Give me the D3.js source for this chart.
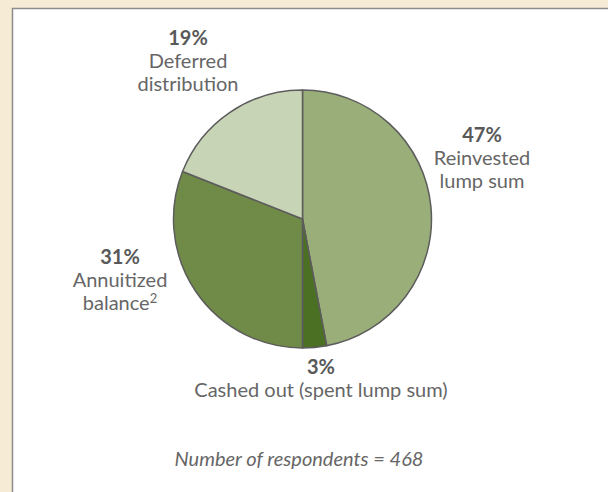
<!DOCTYPE html>
<html>
<head>
<meta charset="utf-8">
<script src="https://cdn.jsdelivr.net/npm/d3@7"></script>
<style>
  html, body { margin: 0; padding: 0; background: #f6ebd5; }
  svg { display: block; }
</style>
</head>
<body>
<svg id="chart" width="608" height="492"></svg>
<script>
// Distribution outcomes (percent of respondents)
const categories = ["Reinvested lump sum", "Cashed out (spent lump sum)", "Annuitized balance²", "Deferred distribution"];
const values = [47, 3, 31, 19];
const colors = ["#9aae79", "#4b7023", "#6f8b47", "#c8d4b6"];
const labelLines = [
  ["Reinvested", "lump sum"],
  ["Cashed out (spent lump sum)"],
  ["Annuitized", "balance²"],
  ["Deferred", "distribution"]
];
const respondents = 468;

const svg = d3.select("#chart");
const W = 608, H = 492;

// Background and white panel
svg.append("rect").attr("width", W).attr("height", H).attr("fill", "#f6ebd5");
svg.append("rect")
  .attr("x", 12.5).attr("y", 8.5)
  .attr("width", W).attr("height", H)
  .attr("fill", "#fff")
  .attr("stroke", "#8c8c8c").attr("stroke-width", 1.5);

const cx = 302.5, cy = 219, r = 129;

const pie = d3.pie().sort(null).value(d => d);
const arc = d3.arc().innerRadius(0).outerRadius(r);
const arcs = pie(values);

const g = svg.append("g").attr("transform", `translate(${cx},${cy})`);
g.selectAll("path")
  .data(arcs)
  .join("path")
  .attr("d", arc)
  .attr("fill", (d, i) => colors[i])
  .attr("stroke", "#5c5c5c")
  .attr("stroke-width", 1.5)
  .attr("stroke-linejoin", "round");

// Label anchors for each slice (percent line baseline)
const labelPos = [
  { x: 482, y: 142 },
  { x: 321, y: 374 },
  { x: 120, y: 264 },
  { x: 188, y: 45 }
];
const lineH = 23;
const font = "Lato, 'Open Sans', sans-serif";

arcs.forEach((d, i) => {
  const p = labelPos[i];
  const t = svg.append("text")
    .attr("text-anchor", "middle")
    .attr("font-family", font)
    .attr("font-size", 20)
    .attr("fill", "#666");
  t.append("tspan")
    .attr("x", p.x).attr("y", p.y)
    .attr("font-weight", 700)
    .attr("fill", "#595959")
    .text(`${values[i]}%`);
  labelLines[i].forEach((line, j) => {
    const y = p.y + lineH * (j + 1);
    const m = line.match(/^(.*?)²$/);
    if (m) {
      // footnote marker drawn as a raised small "2" (relative shift keeps one text chunk)
      t.append("tspan").attr("x", p.x).attr("y", y).text(m[1]);
      t.append("tspan").attr("dy", -7).attr("font-size", 13).text("2");
    } else {
      t.append("tspan").attr("x", p.x).attr("y", y).text(line);
    }
  });
});

svg.append("text")
  .attr("x", 299).attr("y", 466)
  .attr("text-anchor", "middle")
  .attr("font-family", font)
  .attr("font-style", "italic")
  .attr("font-size", 20)
  .attr("fill", "#666")
  .text(`Number of respondents = ${respondents}`);
</script>
</body>
</html>
